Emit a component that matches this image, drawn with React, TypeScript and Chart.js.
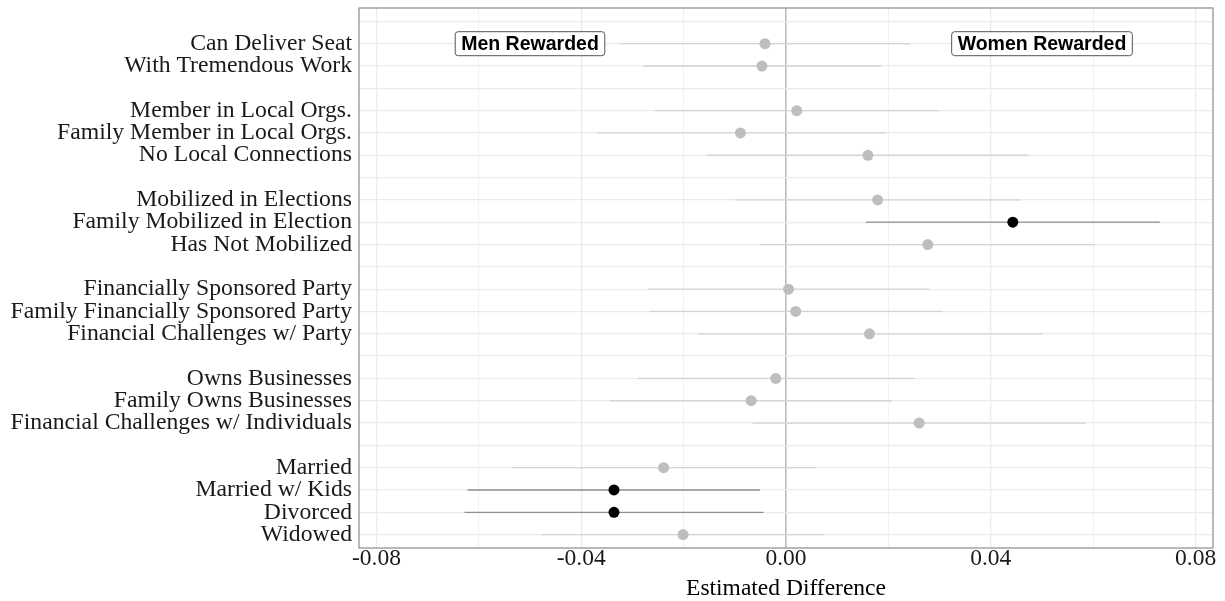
import React, { useEffect, useRef } from "react";
import { Chart, registerables } from "chart.js";

Chart.register(...registerables);

// Category rows (top to bottom); "" marks a spacer row between groups
const categories: string[] = [
  "",
  "Can Deliver Seat",
  "With Tremendous Work",
  "",
  "Member in Local Orgs.",
  "Family Member in Local Orgs.",
  "No Local Connections",
  "",
  "Mobilized in Elections",
  "Family Mobilized in Election",
  "Has Not Mobilized",
  "",
  "Financially Sponsored Party",
  "Family Financially Sponsored Party",
  "Financial Challenges w/ Party",
  "",
  "Owns Businesses",
  "Family Owns Businesses",
  "Financial Challenges w/ Individuals",
  "",
  "Married",
  "Married w/ Kids",
  "Divorced",
  "Widowed",
];

const estimates: (number | null)[] = [
  null, -0.0041, -0.0047, null, 0.0021, -0.0089, 0.016, null, 0.0179, 0.0443, 0.0277, null,
  0.0005, 0.0019, 0.0163, null, -0.002, -0.0068, 0.026, null, -0.0239, -0.0336, -0.0336, -0.0201,
];

const lowerCI: (number | null)[] = [
  null, -0.0325, -0.0279, null, -0.0256, -0.0368, -0.0155, null, -0.01, 0.0156, -0.0052, null,
  -0.027, -0.0267, -0.0171, null, -0.0289, -0.0344, -0.0065, null, -0.0534, -0.0622, -0.0628, -0.0478,
];

const upperCI: (number | null)[] = [
  null, 0.0242, 0.0186, null, 0.0299, 0.0194, 0.0473, null, 0.0458, 0.073, 0.0604, null,
  0.028, 0.0306, 0.05, null, 0.0251, 0.0207, 0.0585, null, 0.0057, -0.0051, -0.0044, 0.0075,
];

const xTickValues: number[] = [-0.08, -0.06, -0.04, -0.02, 0, 0.02, 0.04, 0.06, 0.08];
const xLabeledTicks: number[] = [-0.08, -0.04, 0, 0.04, 0.08];

const annotationTexts = ["Men Rewarded", "Women Rewarded"];
const annotationX = [-0.05, 0.05];
const annotationRow = 1;

const SERIF = '"Liberation Serif", "Times New Roman", serif';
const SANS = '"Liberation Sans", Arial, sans-serif';

const isSig = (i: number) =>
  lowerCI[i] !== null && ((lowerCI[i] as number) > 0 || (upperCI[i] as number) < 0);

export default function App() {
  const ref = useRef<HTMLCanvasElement | null>(null);

  useEffect(() => {
    if (!ref.current) return;

    const ciDatasets: any[] = [];
    categories.forEach((_, i) => {
      if (estimates[i] === null) return;
      ciDatasets.push({
        type: "scatter",
        data: [
          { x: lowerCI[i], y: i },
          { x: upperCI[i], y: i },
        ],
        showLine: true,
        borderColor: isSig(i) ? "#8f8f8f" : "#d4d4d4",
        borderWidth: 1.3,
        pointRadius: 0,
        order: 2,
      });
    });

    const greyPts: any[] = [];
    const blackPts: any[] = [];
    categories.forEach((_, i) => {
      if (estimates[i] === null) return;
      (isSig(i) ? blackPts : greyPts).push({ x: estimates[i], y: i });
    });

    const frame = {
      id: "frame",
      afterDatasetsDraw(chart: any) {
        const { ctx, chartArea: a, scales } = chart;
        ctx.save();
        ctx.strokeStyle = "#8a8a8a";
        ctx.lineWidth = 1.2;
        ctx.strokeRect(a.left, a.top, a.right - a.left, a.bottom - a.top);
        // annotation boxes
        ctx.font = `bold 19.5px ${SANS}`;
        ctx.textAlign = "center";
        ctx.textBaseline = "middle";
        annotationTexts.forEach((t, k) => {
          const cx = scales.x.getPixelForValue(annotationX[k]);
          const cy = scales.y.getPixelForValue(annotationRow);
          const w = ctx.measureText(t).width + 12;
          const h = 24;
          const x0 = cx - w / 2;
          const y0 = cy - h / 2;
          ctx.beginPath();
          ctx.roundRect(x0, y0, w, h, 3);
          ctx.fillStyle = "#ffffff";
          ctx.fill();
          ctx.strokeStyle = "#555555";
          ctx.lineWidth = 1;
          ctx.stroke();
          ctx.fillStyle = "#000000";
          ctx.fillText(t, cx, cy + 1);
        });
        ctx.restore();
      },
    };

    const chart = new Chart(ref.current, {
      type: "scatter",
      data: {
        datasets: [
          {
            data: blackPts,
            backgroundColor: "#000000",
            borderColor: "#000000",
            pointRadius: 5.5,
            pointBorderWidth: 0,
            order: 0,
          } as any,
          {
            data: greyPts,
            backgroundColor: "#bebebe",
            borderColor: "#bebebe",
            pointRadius: 5.5,
            pointBorderWidth: 0,
            order: 1,
          } as any,
          ...ciDatasets,
        ],
      },
      options: {
        animation: false,
        responsive: false,
        devicePixelRatio: 1,
        layout: { padding: { left: 0, top: 8, right: 12, bottom: 0 } },
        plugins: { legend: { display: false }, tooltip: { enabled: false } },
        scales: {
          x: {
            type: "linear",
            min: -0.0834,
            max: 0.0834,
            afterBuildTicks: (s: any) => {
              s.ticks = xTickValues.map((v) => ({ value: v }));
            },
            afterFit: (s: any) => {
              s.height = 53;
              s.paddingLeft = 0;
              s.paddingRight = 0;
            },
            border: { display: false },
            grid: {
              drawTicks: false,
              color: (c: any) =>
                Math.abs(c.tick?.value ?? 1) < 1e-9 ? "#bdbdbd" : "#ebebeb",
              lineWidth: (c: any) => {
                const v = c.tick?.value ?? 1;
                if (Math.abs(v) < 1e-9) return 1.6;
                return xLabeledTicks.some((m) => Math.abs(m - v) < 1e-9) ? 1.3 : 0.7;
              },
            },
            ticks: {
              autoSkip: false,
              maxRotation: 0,
              padding: -1,
              color: "#1a1a1a",
              font: { family: SERIF, size: 23.5, lineHeight: 1 },
              callback: (v: any) =>
                xLabeledTicks.some((m) => Math.abs(m - Number(v)) < 1e-9)
                  ? Number(v).toFixed(2)
                  : "",
            },
            title: {
              display: true,
              text: "Estimated Difference",
              color: "#000000",
              font: { family: SERIF, size: 23.5, lineHeight: 1 },
              padding: { top: 0, bottom: 0 },
            },
          },
          y: {
            type: "linear",
            reverse: true,
            min: -0.6,
            max: categories.length - 1 + 0.6,
            afterBuildTicks: (s: any) => {
              s.ticks = categories.map((_, i) => ({ value: i }));
            },
            afterFit: (s: any) => {
              s.width = 359;
              s.paddingTop = 0;
              s.paddingBottom = 0;
            },
            border: { display: false },
            grid: { drawTicks: false, color: "#ebebeb", lineWidth: 1.3 },
            ticks: {
              autoSkip: false,
              padding: 7,
              color: "#1a1a1a",
              font: { family: SERIF, size: 23.7 },
              callback: (v: any) => categories[Math.round(Number(v))] ?? "",
            },
          },
        },
      },
      plugins: [frame],
    } as any);

    return () => chart.destroy();
  }, []);

  return (
    <div style={{ position: "absolute", left: 0, top: 0, width: 1225, height: 601, background: "#fff" }}>
      <canvas ref={ref} width={1225} height={601} />
    </div>
  );
}
